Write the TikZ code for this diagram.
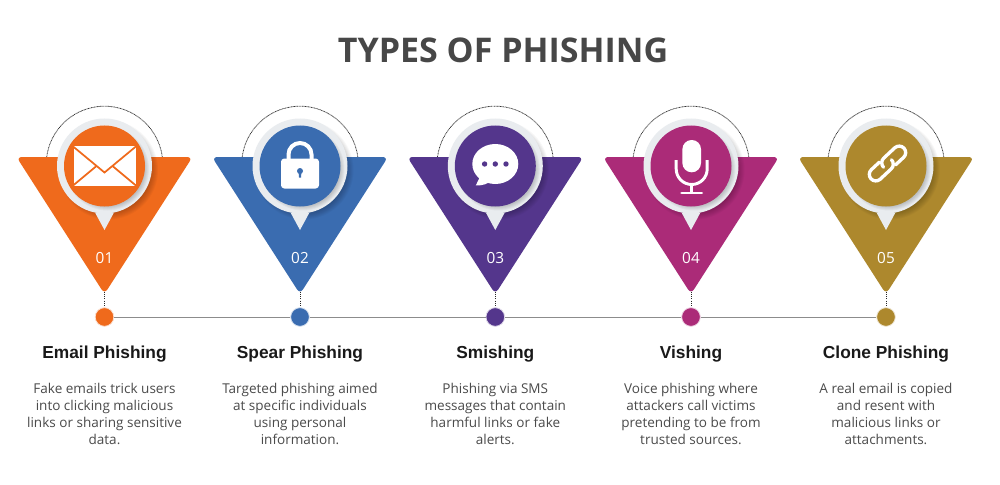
\documentclass[tikz,border=0pt]{standalone}
\usepackage{fontspec}
\setmainfont{Open Sans}
\newfontfamily\headfont{Liberation Sans}
\usepackage{tikz}
\usetikzlibrary{math}
\definecolor{PhishOrange}{RGB}{239,106,28}
\definecolor{PhishBlue}{RGB}{58,108,176}
\definecolor{PhishPurple}{RGB}{84,54,140}
\definecolor{PhishPink}{RGB}{171,43,120}
\definecolor{PhishGold}{RGB}{173,136,45}
\definecolor{RingGray}{RGB}{233,236,239}
\definecolor{BodyGray}{RGB}{75,75,75}
\tikzset{%
  dotnode/.style={circle, fill=#1, draw=#1!20, line width=0.6pt, minimum size=14pt, inner sep=0pt},
  timeline/.style={line width=0.7pt, color=gray!90},
  stemline/.style={line width=0.7pt, densely dotted, color=black!85},
  haloline/.style={line width=0.55pt, dash pattern=on 0.7pt off 0.45pt, color=black!80},
  titletext/.style={font=\bfseries\fontsize{25.5}{28}\selectfont, color=black!72},
  headtext/.style={font=\headfont\bfseries\fontsize{13}{16}\selectfont, color=black!90},
  bodytext/.style={font=\fontsize{10.15}{12.75}\selectfont, align=center, color=BodyGray, anchor=north},
  numtext/.style={font=\fontsize{11.5}{13}\selectfont, color=white}
}
\newcommand{\PhishColumn}[5]{%
  \begin{scope}[shift={(#1,-166)}]
    \draw[haloline] (0,1.5) ++(\haloa:\halor) arc (\haloa:180-\haloa:\halor);
    \fill[fill=#2, rounded corners=4pt] (-88,9) -- (88,9) -- (0,-128) -- cycle;
    \foreach \k in {0,1,...,7} {
      \fill[black, opacity=0.03] (4,-4) circle (\ringr+2-\k);
    }
    \fill[fill=RingGray] (-9.5,-46.5) -- (0,-64) -- (9.5,-46.5) -- cycle;
    \fill[fill=RingGray] (0,0) circle (\ringr);
    \foreach \k in {0,1,...,4} {
      \fill[black, opacity=0.04] (3,-3) circle (\discr+1-\k);
    }
    \fill[fill=#2] (0,0) circle (\discr);
    \coordinate (tip#3) at (0,-125.5);
    \node[numtext] (label#3) at (0,-92) {#3};
  \end{scope}
  \node[dotnode=#2] (dot#3) at (#1,-317) {};
  \draw[stemline] (tip#3) -- (dot#3);
  \node[headtext] (name#3) at (#1,-354.5) {#4};
  \node[bodytext] (text#3) at (#1,-378.8) {#5};
}
\begin{document}
\begin{tikzpicture}[x=0.75pt,y=0.75pt]
    \tikzmath{
      \ringr=47.5;
      \discr=40.5;
      \halor=58.3;
      \haloa=7.4; % where the halo meets the triangle
    }
    \useasboundingbox (0,0) rectangle (1000,-485);
    \fill[white] (0,0) rectangle (1000,-485);
    \node[titletext] (heading) at (503,-50) {TYPES OF PHISHING};
    % Columns:
    \PhishColumn{104.5}{PhishOrange}{01}{Email Phishing}{Fake emails trick users\\into clicking malicious\\links or sharing sensitive\\data.}
    \PhishColumn{300}{PhishBlue}{02}{Spear Phishing}{Targeted phishing aimed\\at specific individuals\\using personal\\information.}
    \PhishColumn{495.3}{PhishPurple}{03}{Smishing}{Phishing via SMS\\messages that contain\\harmful links or fake\\alerts.}
    \PhishColumn{691}{PhishPink}{04}{Vishing}{Voice phishing where\\attackers call victims\\pretending to be from\\trusted sources.}
    \PhishColumn{886}{PhishGold}{05}{Clone Phishing}{A real email is copied\\and resent with\\malicious links or\\attachments.}
    \foreach \a/\b in {01/02,02/03,03/04,04/05} {
      \draw[timeline] (dot\a) -- (dot\b);
    }
    % Envelope:
    \begin{scope}[shift={(104.5,-166)}]
      \fill[white] (-31,20) rectangle (31,-20);
      \draw[PhishOrange, line width=1.3pt] (-32,20) -- (0,-6.5) -- (32,20);
      \draw[PhishOrange, line width=1.3pt] (-32,-20) -- (-8,0);
      \draw[PhishOrange, line width=1.3pt] (32,-20) -- (8,0);
    \end{scope}
    % Padlock:
    \begin{scope}[shift={(300,-166)}]
      \draw[white, line width=3pt] (-11.5,-4) -- (-11.5,11.5) arc (180:0:11.5) -- (11.5,-4);
      \fill[white, rounded corners=2.5pt] (-19,-22.5) rectangle (19,7.5);
      \fill[PhishBlue] (0,-5) circle (3);
      \fill[PhishBlue] (-1.5,-5) -- (-1,-11.5) -- (1,-11.5) -- (1.5,-5) -- cycle;
    \end{scope}
    % Chat bubble:
    \begin{scope}[shift={(495.3,-166)}]
      \fill[white] (0,2) ellipse (23 and 20);
      \fill[white] (-15,-10) -- (-19.5,-19.5) .. controls (-12,-19.5) and (-8,-18) .. (-5,-15) -- cycle;
      \foreach \x in {-10.7,0,10.7} {
        \fill[PhishPurple] (\x,2) circle (2.7);
      }
    \end{scope}
    % Microphone:
    \begin{scope}[shift={(691.7,-166)}]
      \fill[white, rounded corners=6.9pt] (-9.3,-6.3) rectangle (9.3,26);
      \draw[white, line width=2.2pt] (-15.5,6) -- (-15.5,-3) arc (180:360:15.5) -- (15.5,6);
      \draw[white, line width=2.2pt] (0,-18.5) -- (0,-27);
      \draw[white, line width=2.2pt, line cap=round] (-10,-27) -- (10,-27);
    \end{scope}
    % Chain:
    \begin{scope}[shift={(887.5,-163.5)}, rotate=43]
      \draw[white, line width=2.5pt, line cap=round] (5,-6.5) -- (16,-6.5) arc (-90:90:6.5) -- (1,6.5) arc (90:180:6.5);
      \draw[white, line width=2.5pt, line cap=round] (-5,6.5) -- (-16,6.5) arc (90:270:6.5) -- (-1,-6.5) arc (270:360:6.5);
    \end{scope}
\end{tikzpicture}
\end{document}
